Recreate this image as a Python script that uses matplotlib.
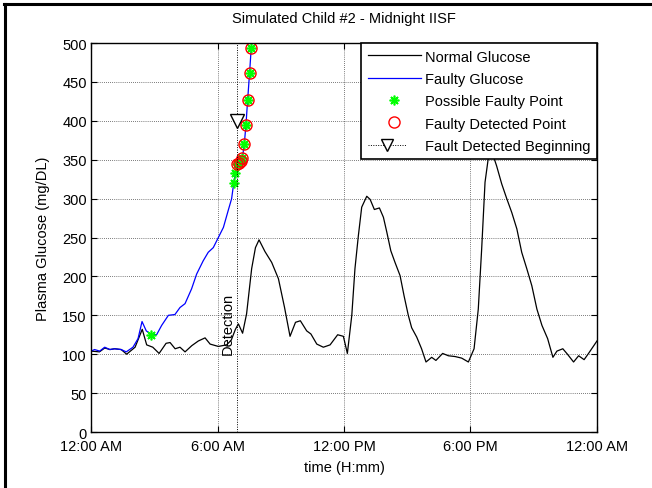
import matplotlib
matplotlib.use('Agg')
from matplotlib import pyplot as plt
from matplotlib.lines import Line2D
from matplotlib.legend_handler import HandlerLine2D

# time in hours after midnight, glucose in mg/dL
normal_t = [0.0, 0.4, 0.65, 0.9, 1.12, 1.43, 1.69, 2.09, 2.43, 2.64, 2.93, 3.23, 3.56, 3.75,
            3.99, 4.22, 4.46, 4.78, 5.09, 5.41, 5.65, 6.04, 6.43, 6.65, 6.85, 6.99, 7.19,
            7.38, 7.62, 7.8, 7.97, 8.25, 8.57, 8.89, 9.18, 9.44, 9.7, 9.93, 10.23, 10.43,
            10.71, 11.02, 11.34, 11.7, 11.97, 12.16, 12.37, 12.52, 12.68, 12.84, 13.08,
            13.24, 13.44, 13.68, 13.87, 14.03, 14.22, 14.42, 14.66, 14.85, 15.05, 15.21,
            15.45, 15.68, 15.89, 16.16, 16.36, 16.68, 16.95, 17.27, 17.58, 17.9, 18.17,
            18.37, 18.53, 18.69, 18.85, 19.08, 19.24, 19.48, 19.72, 19.96, 20.2, 20.43,
            20.67, 20.91, 21.15, 21.39, 21.66, 21.91, 22.1, 22.38, 22.6, 22.89, 23.13,
            23.39, 23.6, 24.0]
normal_bg = [104, 103, 108, 106, 107, 106, 100, 109, 132, 112, 109, 101, 114, 115,
             107, 109, 103, 111, 117, 121, 113, 110, 112, 118, 132, 139, 127,
             152, 210, 237, 247, 232, 218, 197, 160, 123, 141, 143, 130, 126,
             113, 109, 112, 125, 123, 101, 150, 210, 252, 289, 303,
             299, 286, 288, 276, 257, 233, 218, 201, 175, 150, 134,
             122, 107, 90, 96, 92, 101, 98, 97, 95, 90, 107,
             158, 235, 321, 353, 355, 342, 319, 300, 282, 261, 231,
             210, 188, 158, 137, 120, 96, 104, 107, 100, 90, 98,
             93, 101, 117]

faulty_t = [0.0, 0.17, 0.41, 0.65, 0.89, 1.12, 1.43, 1.67, 1.99, 2.23, 2.42, 2.62, 2.83,
            3.11, 3.35, 3.67, 3.98, 4.22, 4.46, 4.77, 5.01, 5.32, 5.56, 5.8, 6.04, 6.28,
            6.51, 6.67, 6.77, 6.85, 6.93, 7.02, 7.10, 7.18, 7.27, 7.35, 7.43, 7.52, 7.60]
faulty_bg = [104, 106, 104, 109, 106, 107, 106, 103, 109, 120, 142, 130, 126,
             125, 137, 150, 151, 160, 165, 184, 203, 220, 231, 237, 250, 263,
             285, 300, 320, 333, 344, 346, 348, 352, 370, 395, 427, 461, 494]

possible_t = [2.86, 6.77, 6.85, 6.93, 7.02, 7.10, 7.18, 7.27, 7.35, 7.43, 7.52, 7.60]
possible_bg = [125, 320, 333, 344, 346, 348, 352, 370, 395, 427, 461, 494]

detected_t = [6.93, 7.02, 7.10, 7.18, 7.27, 7.35, 7.43, 7.52, 7.60]
detected_bg = [344, 346, 348, 352, 370, 395, 427, 461, 494]

detect_time = 6.93
detect_mark = 400

hour_ticks = [0, 6, 12, 18, 24]
hour_labels = ['12:00 AM', '6:00 AM', '12:00 PM', '6:00 PM', '12:00 AM']
bg_ticks = list(range(0, 501, 50))


class RightMarkerHandler(HandlerLine2D):
    # dotted line with the marker drawn near its right end
    def get_xdata(self, legend, xdescent, ydescent, width, height, fontsize):
        xdata = [-xdescent, -xdescent + width * 0.72]
        return xdata, [-xdescent + width * 0.72]


def main():
    plt.rcParams['font.family'] = ['Liberation Sans', 'DejaVu Sans']
    plt.rcParams['font.size'] = 10.5

    fig = plt.figure(figsize=(6.52, 4.89), dpi=100)
    ax = fig.add_axes([0.1396, 0.1145, 0.776, 0.7955])

    asterisk = (8, 2, 0)
    ax.plot(normal_t, normal_bg, color='k', lw=0.9, label='Normal Glucose')
    ax.plot(faulty_t, faulty_bg, color='b', lw=0.9, label='Faulty Glucose')
    ax.plot(possible_t, possible_bg, ls='none', marker=asterisk, ms=7, mew=1.2,
            color='#00ff00', label='Possible Faulty Point')
    ax.plot(detected_t, detected_bg, ls='none', marker='o', ms=8, mew=1.0,
            mfc='none', mec='r', label='Faulty Detected Point')

    ax.plot([detect_time, detect_time], [0, 500], color='k', lw=0.7, ls=(0, (1, 1.5)))
    ax.plot([detect_time], [detect_mark], ls='none', marker='v', ms=10, mfc='w',
            mec='k', mew=1.0)
    ax.text(detect_time - 0.12, 100, 'Detection', rotation=90, ha='right', va='bottom')

    ax.set_xlim(0, 24)
    ax.set_ylim(0, 500)
    ax.set_xticks(hour_ticks)
    ax.set_xticklabels(hour_labels)
    ax.set_yticks(bg_ticks)
    ax.tick_params(direction='in', length=4, width=0.8, top=True, right=True, pad=3)
    ax.tick_params(axis='x', pad=5)
    ax.grid(True, color='k', lw=0.5, ls=(0, (1, 2)))
    for s in ax.spines.values():
        s.set_linewidth(1.0)

    ax.set_title('Simulated Child #2 - Midnight IISF', fontsize=10.5, pad=15)
    ax.set_xlabel('time (H:mm)', labelpad=5)
    ax.set_ylabel('Plasma Glucose (mg/DL)', labelpad=9)

    detect_proxy = Line2D([], [], color='k', lw=0.7, ls=(0, (1, 1.5)), marker='v',
                          ms=8, mfc='w', mec='k')
    handles, labels = ax.get_legend_handles_labels()
    handles.append(detect_proxy)
    labels.append('Fault Detected Beginning')
    leg = ax.legend(handles, labels, loc='upper right', borderaxespad=0,
                    handlelength=3.6, handletextpad=0.3, labelspacing=0.57,
                    fancybox=False, framealpha=1, edgecolor='k', numpoints=1,
                    borderpad=0.45,
                    handler_map={detect_proxy: RightMarkerHandler()})
    leg.get_frame().set_linewidth(1.2)

    # outer frame on the left and top edges of the figure
    fig.add_artist(Line2D([0.007, 0.007], [0.0, 0.99], color='k', lw=2.2))
    fig.add_artist(Line2D([0.006, 1.0], [0.99, 0.99], color='k', lw=2.2))

    fig.savefig('out.png', dpi=100)


if __name__ == '__main__':
    main()
